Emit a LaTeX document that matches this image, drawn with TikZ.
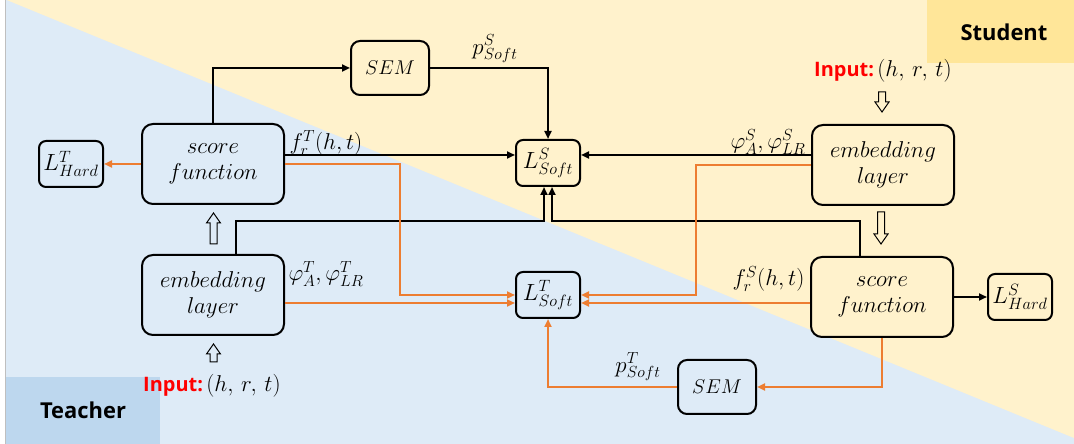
\RequirePackage{fix-cm}
\documentclass[tikz,border=0pt]{standalone}
\usepackage{fontspec}
\newfontfamily\osans{Open Sans}
\usetikzlibrary{arrows.meta,calc}
\definecolor{bgY}{HTML}{FFF2CC}
\definecolor{bgB}{HTML}{DEEBF7}
\definecolor{tagY}{HTML}{FFE699}
\definecolor{tagB}{HTML}{BDD7EE}
\definecolor{org}{HTML}{ED7D31}
\newcommand{\hollowarrow}[4]{% x, tip y, head-base y, base y
  \draw[hollow] (#1-3.5,#4) -- (#1-3.5,#3) -- (#1-7,#3) -- (#1,#2) -- (#1+7,#3) -- (#1+3.5,#3) -- (#1+3.5,#4) -- cycle;}
\begin{document}
\begin{tikzpicture}[x=1bp,y=-1bp,
  box/.style={draw=black, line width=2bp, rounded corners=11bp, align=center, inner sep=0pt, font=\fontsize{23}{26}\selectfont},
  bigbox/.style={box, minimum width=142bp, minimum height=80bp},
  smallbox/.style={box, rounded corners=7bp, minimum width=64bp, minimum height=46bp, font=\fontsize{23.5}{28}\selectfont},
  sembox/.style={box, rounded corners=9bp, minimum width=78bp, minimum height=54bp, font=\fontsize{20}{24}\selectfont},
  tfill/.style={fill=bgB}, sfill/.style={fill=bgY},
  blk/.style={draw=black, line width=2bp, -{Triangle[length=8bp,width=7bp]}},
  orl/.style={draw=org, line width=2bp, -{Triangle[length=8bp,width=7bp]}},
  lbl/.style={font=\fontsize{23}{26}\selectfont, inner sep=0pt},
  hollow/.style={draw=black, line width=1bp, line join=miter},
  tag/.style={font=\osans\bfseries\fontsize{22}{26}\selectfont, inner sep=0pt},
  inp/.style={inner sep=0pt}
]
\useasboundingbox (0,0) rectangle (1074,444);
% background
\fill[white] (0,0) rectangle (1074,444);
\fill[bgB] (5,0) rectangle (1074,444);
\fill[bgY] (6.7,0) -- (1074,0) -- (1074,438) -- cycle;
\fill[tagY] (927,0) rectangle (1074,63);
\fill[tagB] (5,377) rectangle (160,444);
\draw[black!25, line width=1bp] (5,0) -- (5,444);
\node[tag] (student) at (1004,32) {Student};
\node[tag] (teacher) at (83,410) {Teacher};

% nodes
\node[bigbox,tfill] (scoreT) at (213,164) {$score$\\$function$};
\node[bigbox,tfill] (embT) at (213,295) {$embedding$\\$layer$};
\node[smallbox,tfill] (LhardT) at (71,164) {$L^{T}_{Hard}$};
\node[sembox,sfill] (semS) at (390,68) {$SEM$};
\node[smallbox,sfill] (LsoftS) at (548,163) {$L^{S}_{Soft}$};
\node[smallbox,tfill] (LsoftT) at (548,295) {$L^{T}_{Soft}$};
\node[bigbox,sfill] (embS) at (883,165) {$embedding$\\$layer$};
\node[bigbox,sfill] (scoreS) at (882,297) {$score$\\$function$};
\node[smallbox,sfill] (LhardS) at (1020,297) {$L^{S}_{Hard}$};
\node[sembox,tfill] (semT) at (717,387) {$SEM$};

% inputs
\node[inp] (inS) at (883,71) {{\osans\bfseries\fontsize{20}{24}\selectfont\color{red}Input:}\ {\fontsize{23}{26}\selectfont$(h,\,r,\,t)$}};
\node[inp] (inT) at (212,386) {{\osans\bfseries\fontsize{20}{24}\selectfont\color{red}Input:}\ {\fontsize{23}{26}\selectfont$(h,\,r,\,t)$}};

% hollow block arrows
\hollowarrow{213.5}{213}{223}{244}
\hollowarrow{213.5}{344}{354}{362}
\hollowarrow{882}{112}{102}{92}
\hollowarrow{881}{244}{234}{212}

% helper coordinates
\coordinate (vT) at (400,0);
\coordinate (vS) at (696,0);
\coordinate (bus) at (0,221);
\coordinate (sL) at ([xshift=-4bp]LsoftS.south);
\coordinate (sR) at ([xshift=4bp]LsoftS.south);
\coordinate (aT) at ([yshift=9bp]scoreT.east);
\coordinate (aS) at ([yshift=10bp]embS.west);
\coordinate (oT) at ([yshift=-8bp]embT.east);
\coordinate (oS) at ([yshift=-6bp]scoreS.west);
\coordinate (eT) at ([xshift=23bp]embT.north);
\coordinate (eS) at ([xshift=-22bp]scoreS.north);

% black connectors
\draw[blk] (scoreT.north) |- (semS.west);
\draw[blk] (semS.east) -| (LsoftS.north);
\draw[blk] (aT) -- (aT -| LsoftS.west);
\draw[blk] (aS) -- (aS -| LsoftS.east);
\draw[blk] (eT) |- (sL |- bus) -- (sL);
\draw[blk] (eS) |- (sR |- bus) -- (sR);
\draw[blk] (scoreS.east) -- (scoreS.east -| LhardS.west);

% orange connectors
\draw[orl] (scoreT.west) -- (scoreT.west -| LhardT.east);
\draw[orl] (scoreT.east) -| (vT |- LsoftT.west) -- (LsoftT.west);
\draw[orl] (oT) -- (oT -| LsoftT.west);
\draw[orl] (embS.west) -| (vS |- LsoftT.east) -- (LsoftT.east);
\draw[orl] (oS) -- (oS -| LsoftT.east);
\draw[orl] (scoreS.south) |- (semT.east);
\draw[orl] (semT.west) -| (LsoftT.south);

% labels
\node[lbl] (lpS) at (495,49) {$p^{S}_{Soft}$};
\node[lbl] (lfT) at (326,143) {$f^{T}_{r}(h,t)$};
\node[lbl] (lphiT) at (326,274) {$\varphi^{T}_{A},\varphi^{T}_{LR}$};
\node[lbl] (lphiS) at (768,142) {$\varphi^{S}_{A},\varphi^{S}_{LR}$};
\node[lbl] (lfS) at (768.5,278.7) {$f^{S}_{r}(h,t)$};
\node[lbl] (lpT) at (638,367) {$p^{T}_{Soft}$};
\end{tikzpicture}
\end{document}
